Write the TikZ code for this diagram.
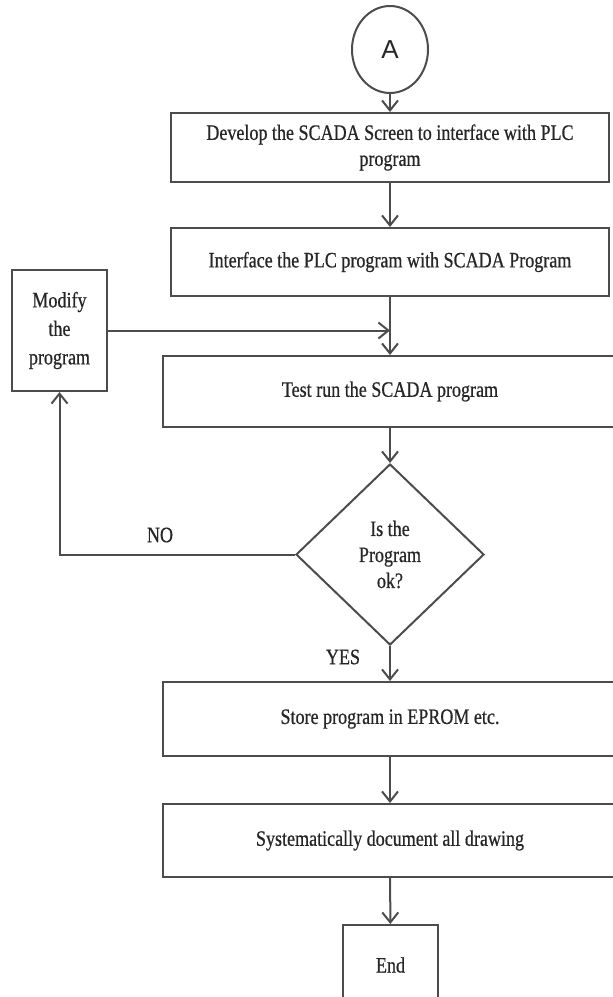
\documentclass[tikz,border=0pt]{standalone}
\usepackage{fontspec}
\setmainfont{Liberation Serif}[FakeStretch=0.82,FakeBold=0.6]
\newfontfamily\circlefont{Liberation Sans}
\usetikzlibrary{shapes.geometric}
\usetikzlibrary{arrows.meta}

\begin{document}
\begin{tikzpicture}[x=1pt,y=-1pt,line width=2pt,color=black!70,text=black!85,
	>={Straight Barb[length=10pt,width=16pt]},
	every node/.style={font=\fontsize{22}{26}\selectfont},
	stepbox/.style={draw,rectangle,inner sep=0pt,align=center}]
		\clip (0,0) rectangle (613,997);

		\node[ellipse,draw,minimum width=76pt,minimum height=87pt,inner sep=0pt,font=\circlefont\fontsize{26}{26}\selectfont] (A) at (390,49.5) {A};

		\node[stepbox,minimum width=438pt,minimum height=69pt] (develop) at (390,147.5) {Develop the SCADA Screen to interface with PLC\\program};
		\node[stepbox,minimum width=438pt,minimum height=68pt] (interface) at (390,262) {Interface the PLC program with SCADA Program};
		\node[stepbox,minimum width=95pt,minimum height=121pt,font=\fontsize{22}{28.5}\selectfont] (modify) at (59.5,330.5) {Modify\\the\\program};
		\node[stepbox,minimum width=454pt,minimum height=71pt] (test) at (390,391.5) {Test run the SCADA program};

		\node[diamond,draw,minimum width=188pt,minimum height=181pt,inner sep=0pt,align=center] (check) at (390,554.5) {Is the\\Program\\ok?};
		\node (no) at (160,535) {NO};
		\node (yes) at (343,657) {YES};

		\node[stepbox,minimum width=454pt,minimum height=74pt] (store) at (390,719) {Store program in EPROM etc.};
		\node[stepbox,minimum width=454pt,minimum height=73pt] (document) at (390,840.5) {Systematically document all drawing};
		\node[stepbox,minimum width=95pt,minimum height=80pt] (end) at (390.5,965) {End};

		\coordinate (join) at (modify.east -| test.north);

		\draw[->] (A)--(develop);
		\draw[->] (develop)--(interface);
		\draw[->] (interface)--(test);
		\draw[->] (modify.east)--(join);
		\draw[->] (test)--(check);
		\draw[->] (check.west)-|(modify.south);% NO
		\draw[->] (check)--(store);% YES
		\draw[->] (store)--(document);
		\draw[->] (document)--(end);
\end{tikzpicture}
\end{document}
